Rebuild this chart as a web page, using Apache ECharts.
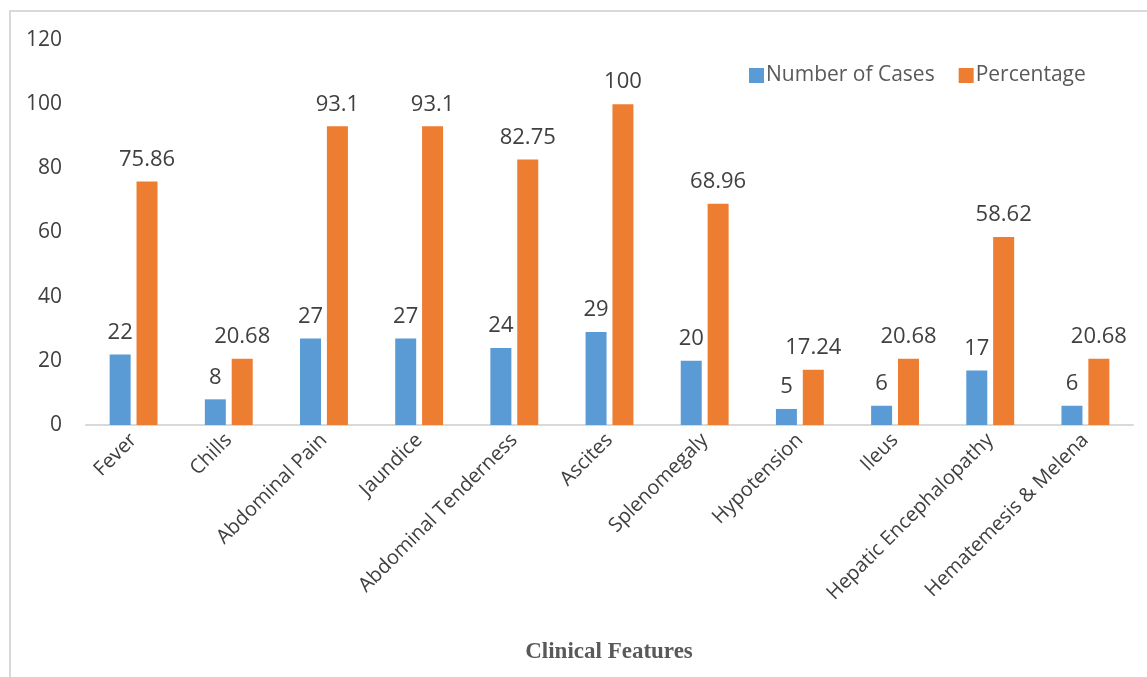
<!DOCTYPE html>
<html>
<head>
<meta charset="utf-8">
<script src="https://cdn.jsdelivr.net/npm/echarts@6/dist/echarts.min.js"></script>
<style>
  html, body { margin: 0; padding: 0; background: #fff; }
  #frame { position: absolute; left: 9px; top: 10px; right: 0; bottom: 0; border-top: 2px solid #d9d9d9; border-left: 2px solid #d9d9d9; }
  #chart { width: 1147px; height: 677px; position: absolute; left: 0; top: 0; }
</style>
</head>
<body>
<div id="frame"></div>
<div id="chart"></div>
<script>
const categories = ['Fever', 'Chills', 'Abdominal Pain', 'Jaundice', 'Abdominal Tenderness', 'Ascites',
  'Splenomegaly', 'Hypotension', 'Ileus', 'Hepatic Encephalopathy', 'Hematemesis & Melena']
const cases = [22, 8, 27, 27, 24, 29, 20, 5, 6, 17, 6]
const percentage = [75.86, 20.68, 93.1, 93.1, 82.75, 100, 68.96, 17.24, 20.68, 58.62, 20.68]

const font = 'Open Sans'
const textColor = '#404040'

const myChart = echarts.init(document.getElementById('chart'))

const label = {
  show: true,
  position: 'top',
  distance: 11,
  color: textColor,
  fontFamily: font,
  fontSize: 22
}

myChart.setOption({
  animation: false,
  grid: { left: 86, right: 14, top: 40, bottom: 252 },
  legend: {
    left: 744,
    top: 60,
    itemWidth: 15,
    itemHeight: 15,
    itemGap: 24,
    icon: 'rect',
    textStyle: { color: '#595959', fontFamily: font, fontSize: 21, padding: [0, 0, 0, -3] },
    data: ['Number of Cases', 'Percentage']
  },
  graphic: [{
    type: 'text',
    x: 609,
    y: 652,
    style: {
      text: 'Clinical Features',
      align: 'center',
      verticalAlign: 'middle',
      fill: '#595959',
      fontFamily: 'Liberation Serif',
      fontWeight: 'bold',
      fontSize: 23
    }
  }],
  xAxis: {
    type: 'category',
    data: categories,
    axisLine: { lineStyle: { color: '#d9d9d9', width: 2 } },
    axisTick: { show: false },
    axisLabel: { rotate: 45, margin: 12, color: textColor, fontFamily: font, fontSize: 20, interval: 0 }
  },
  yAxis: {
    type: 'value',
    min: 0,
    max: 120,
    interval: 20,
    splitLine: { show: false },
    axisLine: { show: false },
    axisTick: { show: false },
    axisLabel: { margin: 24, color: textColor, fontFamily: font, fontSize: 21 }
  },
  series: [
    {
      name: 'Number of Cases',
      type: 'bar',
      data: cases,
      barWidth: 21,
      barGap: '28%',
      itemStyle: { color: '#5B9BD5' },
      label: label
    },
    {
      name: 'Percentage',
      type: 'bar',
      data: percentage,
      barWidth: 21,
      itemStyle: { color: '#ED7D31' },
      label: label
    }
  ]
})
</script>
</body>
</html>
